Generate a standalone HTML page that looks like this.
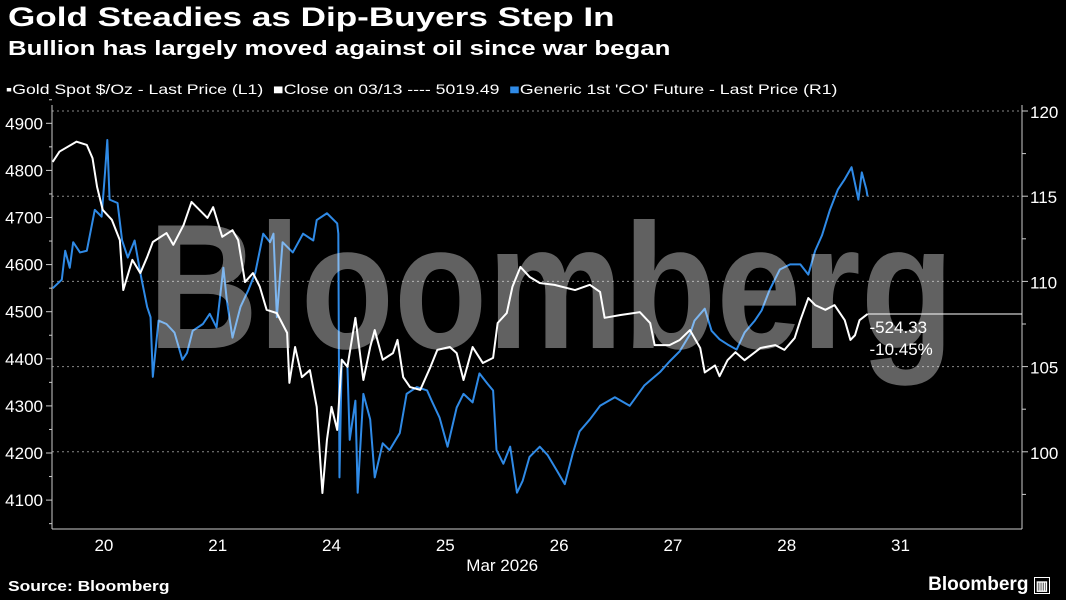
<!DOCTYPE html>
<html><head><meta charset="utf-8"><style>
body{margin:0;background:#000;width:1066px;height:600px;overflow:hidden;font-family:"Liberation Sans",sans-serif;color:#fff}
#t{position:absolute;left:8px;top:2px;font-size:27px;font-weight:bold;transform:scaleX(1.3);transform-origin:left top;white-space:nowrap}
#s{position:absolute;left:8px;top:38px;font-size:20px;font-weight:bold;transform:scaleX(1.29);transform-origin:left top;white-space:nowrap}
#lg{position:absolute;left:6px;top:81px;font-size:14px;color:#fff;transform:scaleX(1.26);transform-origin:left top;white-space:nowrap}
#src{position:absolute;left:8px;top:578px;font-size:15px;font-weight:bold;transform:scaleX(1.16);transform-origin:left top;white-space:nowrap}
#logo{position:absolute;right:16px;top:574px;font-size:19px;font-weight:bold}
svg{position:absolute;left:0;top:0}
</style></head><body>
<div id="t">Gold Steadies as Dip-Buyers Step In</div>
<div id="s">Bullion has largely moved against oil since war began</div>
<div id="lg"><span>▪Gold Spot $/Oz - Last Price (L1)</span>&nbsp;&nbsp;<span><span style="color:#fff">■</span>Close on 03/13 ---- 5019.49</span>&nbsp;&nbsp;<span><span style="color:#2f8ae6">■</span>Generic 1st 'CO' Future - Last Price (R1)</span></div>
<div id="src">Source: Bloomberg</div>
<div id="logo">Bloomberg <span style="font-size:13px;border:1px solid #fff;padding:0 1px">▥</span></div>
<svg id="c" width="1066" height="600"></svg>
<script>
const goldT=[0.05,0.11,0.26,0.35,0.40,0.44,0.49,0.57,0.64,0.67,0.75,0.82,0.88,0.93,1.05,1.11,1.20,1.27,1.34,1.41,1.46,1.54,1.63,1.68,1.74,1.81,1.87,1.93,2.02,2.11,2.13,2.18,2.24,2.31,2.37,2.42,2.46,2.50,2.55,2.59,2.64,2.71,2.78,2.84,2.88,2.95,3.04,3.08,3.13,3.19,3.28,3.37,3.43,3.54,3.60,3.66,3.74,3.83,3.92,3.96,4.04,4.09,4.16,4.24,4.33,4.46,4.64,4.77,4.86,4.90,5.04,5.21,5.30,5.34,5.47,5.56,5.65,5.74,5.78,5.87,5.91,5.98,6.05,6.13,6.27,6.40,6.48,6.57,6.62,6.69,6.75,6.84,6.92,7.01,7.06,7.10,7.14,7.21];
const goldV=[4818,4840,4861,4854,4826,4765,4716,4695,4652,4546,4610,4582,4616,4648,4667,4642,4684,4733,4716,4699,4722,4659,4673,4652,4563,4582,4553,4504,4497,4455,4349,4425,4361,4376,4298,4115,4228,4298,4249,4398,4383,4487,4355,4425,4461,4398,4412,4440,4361,4340,4334,4383,4419,4425,4412,4355,4425,4391,4402,4476,4497,4553,4595,4574,4561,4557,4546,4557,4542,4487,4493,4499,4476,4429,4429,4440,4461,4423,4371,4386,4363,4397,4414,4397,4423,4429,4419,4444,4482,4529,4514,4504,4514,4482,4440,4450,4482,4495];
const oilT=[0.05,0.13,0.16,0.20,0.23,0.29,0.35,0.42,0.48,0.51,0.53,0.55,0.62,0.66,0.71,0.77,0.82,0.88,0.91,0.93,0.98,1.05,1.12,1.19,1.23,1.28,1.37,1.43,1.49,1.55,1.58,1.63,1.70,1.77,1.83,1.90,1.96,1.99,2.02,2.07,2.16,2.25,2.34,2.37,2.46,2.55,2.56,2.57,2.59,2.64,2.66,2.71,2.73,2.78,2.84,2.88,2.95,3.01,3.10,3.16,3.25,3.34,3.38,3.45,3.52,3.60,3.66,3.74,3.80,3.87,3.92,3.95,4.01,4.07,4.13,4.18,4.24,4.33,4.40,4.48,4.55,4.62,4.68,4.77,4.86,4.99,5.12,5.25,5.39,5.47,5.56,5.65,5.69,5.78,5.84,5.91,5.98,6.06,6.13,6.22,6.28,6.35,6.44,6.53,6.62,6.69,6.75,6.81,6.88,6.95,7.01,7.07,7.13,7.16,7.20,7.21];
const oilV=[109.6,110.1,111.8,110.8,112.3,111.7,111.8,114.2,113.8,116.4,118.3,114.8,114.6,112.4,111.4,112.4,110.5,108.5,107.9,104.4,107.7,107.5,107.0,105.4,105.8,107.1,107.5,108.1,107.3,110.8,108.9,106.7,108.5,109.5,110.5,112.8,112.3,112.8,107.9,112.3,111.7,112.8,112.4,113.6,114.0,113.4,112.8,98.5,105.4,105.0,100.7,103.0,97.6,103.4,101.9,98.5,100.5,100.1,101.1,103.4,103.8,103.6,103.0,102.0,100.3,102.6,103.4,102.9,104.6,104.0,103.6,100.1,99.3,100.3,97.6,98.3,99.7,100.3,99.8,98.9,98.1,99.9,101.2,101.9,102.7,103.2,102.7,103.9,104.7,105.3,105.9,106.9,107.7,108.4,107.1,106.6,106.3,106.0,107.0,107.7,108.3,109.5,110.7,111.0,111.0,110.4,111.8,112.7,114.2,115.4,116.0,116.7,114.8,116.4,115.4,115.0];
const leftTicks=[4100,4200,4300,4400,4500,4600,4700,4800,4900];
const rightTicks=[100,105,110,115,120];
const dayLabels=["20","21","24","25","26","27","28","31"];
const lastGold=4495.16, chg="-524.33", pct="-10.45%";

const X0=52,X1=1022,Y0=105,Y1=529;
const xs=t=>47+t*113.8;
const yl=v=>123.3+(4900-v)*0.471;
const yr=v=>111+(120-v)*17.04;
const svg=document.getElementById('c');
const NS='http://www.w3.org/2000/svg';
function mk(tag,a,p){const e=document.createElementNS(NS,tag);for(const k in a)e.setAttribute(k,a[k]);(p||svg).appendChild(e);return e;}
rightTicks.forEach(v=>{const g=mk('line',{x1:X0,x2:X1,y1:yr(v),y2:yr(v),stroke:'#888','stroke-width':1,'stroke-dasharray':'2,3'});


mk('line',{x1:X1,x2:X1+6,y1:yr(v),y2:yr(v),stroke:'#ccc'});
const tx=mk('text',{x:X1+8,y:yr(v)+7,fill:'#fff','font-size':17,'font-family':'Liberation Sans'});tx.textContent=v;


if(v>100){mk('line',{x1:X1,x2:X1+4,y1:yr(v-2.5),y2:yr(v-2.5),stroke:'#ccc'});}
});
mk('line',{x1:X1,x2:X1+4,y1:yr(97.5),y2:yr(97.5),stroke:'#ccc'});
leftTicks.forEach(v=>{mk('line',{x1:X0-6,x2:X0,y1:yl(v),y2:yl(v),stroke:'#ccc'});
mk('line',{x1:X0-3,x2:X0,y1:yl(v+50),y2:yl(v+50),stroke:'#ccc'});
const tx=mk('text',{x:X0-9,y:yl(v)+6,fill:'#fff','font-size':17,'text-anchor':'end','font-family':'Liberation Sans'});tx.textContent=v;


});
mk('line',{x1:X0-3,x2:X0,y1:yl(4050),y2:yl(4050),stroke:'#ccc'});
const la=mk('line',{x1:X0,x2:X0,y1:Y0,y2:Y1,stroke:'#ccc'});


const ra=mk('line',{x1:X1,x2:X1,y1:Y0,y2:Y1,stroke:'#ccc'});


const ba=mk('line',{x1:X0,x2:X1,y1:Y1,y2:Y1,stroke:'#ccc'});


dayLabels.forEach((d,i)=>{const tx=mk('text',{x:xs(i+0.5),y:Y1+22,fill:'#fff','font-size':17,'text-anchor':'middle','font-family':'Liberation Sans'});tx.textContent=d;


});
const mt=mk('text',{x:xs(4),y:Y1+42,fill:'#fff','font-size':17,'text-anchor':'middle','font-family':'Liberation Sans'});mt.textContent='Mar 2026';


const oil=mk('polyline',{points:oilT.map((t,i)=>xs(t)+','+yr(oilV[i])).join(' '),fill:'none',stroke:'#2f8ae6','stroke-width':2,'stroke-linejoin':'round'});


const gold=mk('polyline',{points:goldT.map((t,i)=>xs(t)+','+yl(goldV[i])).join(' '),fill:'none',stroke:'#fff','stroke-width':2,'stroke-linejoin':'round'});


const wm=mk('text',{x:148,y:348,fill:'#fff','fill-opacity':0.38,'font-size':178,'font-weight':'bold','font-family':'Liberation Sans',textLength:806,lengthAdjust:'spacingAndGlyphs'});wm.textContent='Bloomberg';


const ref=mk('line',{x1:xs(goldT[goldT.length-1]),x2:X1,y1:yl(lastGold),y2:yl(lastGold),stroke:'#fff','stroke-width':1});


const c1=mk('text',{x:xs(goldT[goldT.length-1])+2,y:yl(lastGold)+19,fill:'#fff','font-size':17,'font-family':'Liberation Sans'});c1.textContent=chg;


const c2=mk('text',{x:xs(goldT[goldT.length-1])+2,y:yl(lastGold)+41,fill:'#fff','font-size':17,'font-family':'Liberation Sans'});c2.textContent=pct;


</script>
</body></html>
